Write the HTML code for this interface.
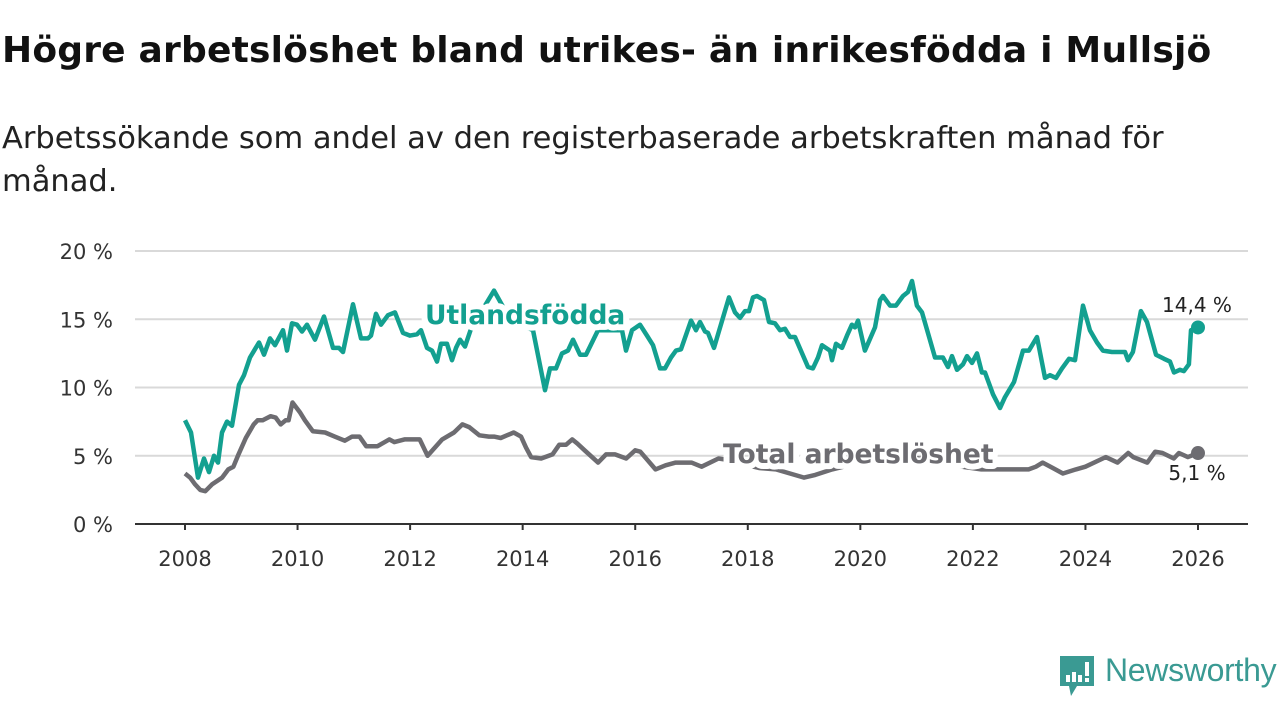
<!DOCTYPE html>
<html><head><meta charset="utf-8">
<style>
body{margin:0;background:#fff;width:1280px;height:720px;overflow:hidden;font-family:"Liberation Sans","DejaVu Sans",sans-serif;}
h1{position:absolute;left:2px;top:30px;margin:0;font-size:36px;font-weight:bold;color:#111;font-family:"DejaVu Sans","Liberation Sans",sans-serif;letter-spacing:0.2px;white-space:nowrap}
.sub{position:absolute;left:2px;top:117px;width:1180px;margin:0;font-size:30.5px;line-height:43px;color:#222;font-family:"DejaVu Sans","Liberation Sans",sans-serif;font-weight:normal;letter-spacing:0px}
svg{position:absolute;left:0;top:0}
</style></head><body>
<h1>Högre arbetslöshet bland utrikes- än inrikesfödda i Mullsjö</h1>
<p class="sub">Arbetssökande som andel av den registerbaserade arbetskraften månad för månad.</p>
<svg id="chart" width="1280" height="720"></svg>
<script>
const yTicks=[0,5,10,15,20];
const yTickLabels=["0 %","5 %","10 %","15 %","20 %"];
const xTicks=[2008,2010,2012,2014,2016,2018,2020,2022,2024,2026];
const foreignOffsets=[0,.107,.231,.338,.426,.515,.586,.657,.746,.835,.959,1.048,1.155,1.315,1.404,1.510,1.599,1.741,1.812,1.901,1.990,2.079,2.168,2.310,2.470,2.630,2.736,2.807,2.985,3.127,3.252,3.305,3.394,3.483,3.607,3.731,3.873,3.998,4.122,4.193,4.300,4.389,4.478,4.549,4.655,4.744,4.815,4.886,4.975,5.082,5.490,5.775,6.183,6.397,6.485,6.592,6.699,6.805,6.894,7.018,7.125,7.338,7.765,7.836,7.942,8.085,8.209,8.316,8.440,8.529,8.635,8.724,8.813,8.991,9.080,9.151,9.240,9.293,9.399,9.666,9.773,9.861,9.950,10.021,10.092,10.163,10.288,10.377,10.483,10.572,10.661,10.750,10.839,11.070,11.158,11.247,11.318,11.461,11.496,11.567,11.674,11.763,11.851,11.905,11.958,12.082,12.260,12.349,12.402,12.527,12.633,12.758,12.847,12.918,13.006,13.095,13.237,13.326,13.468,13.557,13.628,13.717,13.824,13.895,13.984,14.073,14.161,14.215,14.357,14.481,14.570,14.730,14.890,14.996,15.139,15.281,15.370,15.476,15.583,15.707,15.814,15.956,16.080,16.205,16.311,16.471,16.702,16.756,16.844,16.986,17.093,17.253,17.395,17.502,17.573,17.679,17.750,17.839,17.875,18];
const foreignDates=foreignOffsets.map(o=>2008+o);
const foreignValues=[7.6,6.7,3.4,4.8,3.8,5.0,4.5,6.7,7.5,7.2,10.2,10.9,12.2,13.3,12.4,13.6,13.1,14.2,12.7,14.7,14.6,14.1,14.6,13.5,15.2,12.9,12.9,12.6,16.1,13.6,13.6,13.8,15.4,14.6,15.3,15.5,14.0,13.8,13.9,14.2,12.9,12.7,11.9,13.2,13.2,12.0,12.9,13.5,13.0,14.3,17.1,15.0,14.2,9.8,11.4,11.4,12.5,12.7,13.5,12.4,12.4,14.2,14.2,12.7,14.2,14.6,13.8,13.1,11.4,11.4,12.2,12.7,12.8,14.9,14.2,14.8,14.1,14.0,12.9,16.6,15.5,15.1,15.6,15.6,16.6,16.7,16.4,14.8,14.7,14.2,14.3,13.7,13.7,11.5,11.4,12.2,13.1,12.7,12.0,13.2,12.9,13.8,14.6,14.4,14.9,12.7,14.4,16.4,16.7,16.0,16.0,16.7,17.0,17.8,16.0,15.5,13.5,12.2,12.2,11.5,12.3,11.3,11.7,12.3,11.8,12.5,11.1,11.1,9.5,8.5,9.3,10.4,12.7,12.7,13.7,10.7,10.9,10.7,11.4,12.1,12.0,16.0,14.2,13.3,12.7,12.6,12.6,12.0,12.6,15.6,14.8,12.4,12.1,11.9,11.1,11.3,11.2,11.7,14.2,14.4];
const totalDates=[2008,2008.09,2008.18,2008.27,2008.36,2008.48,2008.59,2008.66,2008.77,2008.86,2008.95,2009.08,2009.22,2009.29,2009.38,2009.52,2009.61,2009.7,2009.79,2009.84,2009.91,2010.04,2010.13,2010.27,2010.49,2010.66,2010.84,2010.97,2011.1,2011.22,2011.42,2011.63,2011.72,2011.9,2012.02,2012.17,2012.31,2012.57,2012.78,2012.93,2013.05,2013.23,2013.4,2013.49,2013.61,2013.84,2013.97,2014.06,2014.15,2014.33,2014.53,2014.65,2014.77,2014.88,2014.97,2015.1,2015.34,2015.48,2015.64,2015.84,2016.0,2016.09,2016.36,2016.54,2016.72,2017.0,2017.18,2017.48,2017.8,2018.0,2018.2,2018.5,2018.75,2019.0,2019.2,2019.5,2019.9,2020.4,2020.9,2021.3,2021.8,2022.15,2022.45,2022.76,2022.99,2023.12,2023.24,2023.42,2023.6,2023.83,2024.0,2024.36,2024.57,2024.76,2024.85,2025.1,2025.24,2025.37,2025.57,2025.66,2025.82,2026.0];
const totalValues=[3.7,3.4,2.9,2.5,2.4,2.9,3.2,3.4,4.0,4.2,5.1,6.3,7.3,7.6,7.6,7.9,7.8,7.3,7.6,7.6,8.9,8.2,7.6,6.8,6.7,6.4,6.1,6.4,6.4,5.7,5.7,6.2,6.0,6.2,6.2,6.2,5.0,6.2,6.7,7.3,7.1,6.5,6.4,6.4,6.3,6.7,6.4,5.6,4.9,4.8,5.1,5.8,5.8,6.2,5.9,5.4,4.5,5.1,5.1,4.8,5.4,5.3,4.0,4.3,4.5,4.5,4.2,4.8,4.6,4.3,4.1,4.0,3.7,3.4,3.6,4.0,4.4,4.8,4.9,4.6,4.2,4.0,4.0,4.0,4.0,4.2,4.5,4.1,3.7,4.0,4.2,4.9,4.5,5.2,4.9,4.5,5.3,5.2,4.8,5.2,4.9,5.2,5.4,5.1];
const NS='http://www.w3.org/2000/svg';
const svg=document.getElementById('chart');
const X0=185,X1=1198,Y0=524,Y20=251;
function xs(d){return X0+(d-2008)/(2026-2008)*(X1-X0);}
function ys(v){return Y0-v/20*(Y0-Y20);}
function mk(tag,attrs,parent){const e=document.createElementNS(NS,tag);for(const k in attrs)e.setAttribute(k,attrs[k]);(parent||svg).appendChild(e);return e;}
const grid=mk('g',{});


yTicks.forEach((t,i)=>{
  if(t>0){const l=mk('line',{x1:135,x2:1248,y1:ys(t),y2:ys(t),stroke:'#d9d9d9','stroke-width':2},grid);
  
  }
  const tx=mk('text',{x:113,y:ys(t)+8,'text-anchor':'end','font-size':21,fill:'#333','font-family':'DejaVu Sans, Liberation Sans, sans-serif'});
  tx.textContent=yTickLabels[i];
  
  
});
const ax=mk('line',{x1:135,x2:1248,y1:Y0,y2:Y0,stroke:'#333','stroke-width':2});


xTicks.forEach(t=>{
  const tk=mk('line',{x1:xs(t),x2:xs(t),y1:Y0,y2:Y0+6,stroke:'#333','stroke-width':2});
  
  
  const tx=mk('text',{x:xs(t),y:Y0+42,'text-anchor':'middle','font-size':21,fill:'#333','font-family':'DejaVu Sans, Liberation Sans, sans-serif'});
  tx.textContent=t;
  
  
});
function line(dates,vals,color,name){
  const d=dates.map((t,i)=>(i?'L':'M')+xs(t).toFixed(1)+','+ys(vals[i]).toFixed(1)).join('');
  const p=mk('path',{d:d,fill:'none',stroke:color,'stroke-width':4.5,'stroke-linejoin':'round'});
  
  
  const n=dates.length-1;
  const c=mk('circle',{cx:xs(dates[n]),cy:ys(vals[n]),r:7,fill:color});
  
  
}
line(totalDates,totalValues,'#6d6c71','total-line');
line(foreignDates,foreignValues,'#13a090','foreign-born-line');
function label(txt,x,y,color,name,bold,size,anchor){
  const t=mk('text',{x:x,y:y,fill:color,'font-size':size,'font-weight':bold?'bold':'normal','text-anchor':anchor||'start',stroke:'#fff','stroke-width':bold?12:6,'paint-order':'stroke','stroke-linejoin':'round','font-family':'DejaVu Sans, Liberation Sans, sans-serif'});
  t.textContent=txt;
  
  
}
label('Utlandsfödda',425,324,'#13a090','foreign-born-label',true,26.5);
label('Total arbetslöshet',723,463,'#6d6c71','total-label',true,26.5);
label('14,4 %',1197,312,'#222','foreign-end-value',false,20,'middle');
label('5,1 %',1197,480,'#222','total-end-value',false,20,'middle');
</script>
<div style="position:absolute;left:1059px;top:655px;width:222px;height:45px">
 <svg width="40" height="44" style="position:absolute;left:0;top:0">
  <path d="M1,1 H35 V31 H18 L12,41 L10,31 H1 Z" fill="#3a9a93"/>
  <rect x="7" y="20" width="4" height="7" fill="#fff"/><rect x="13" y="17" width="4" height="10" fill="#fff"/><rect x="19" y="20" width="4" height="7" fill="#fff"/><rect x="26" y="7" width="4" height="14" fill="#fff"/><rect x="26" y="23" width="4" height="4" fill="#fff"/>
 </svg>
 <span style="position:absolute;left:46px;top:-3px;font-size:32px;color:#3a9a93;font-family:'Liberation Sans',sans-serif;letter-spacing:-0.3px">Newsworthy</span>
</div>
</body></html>
